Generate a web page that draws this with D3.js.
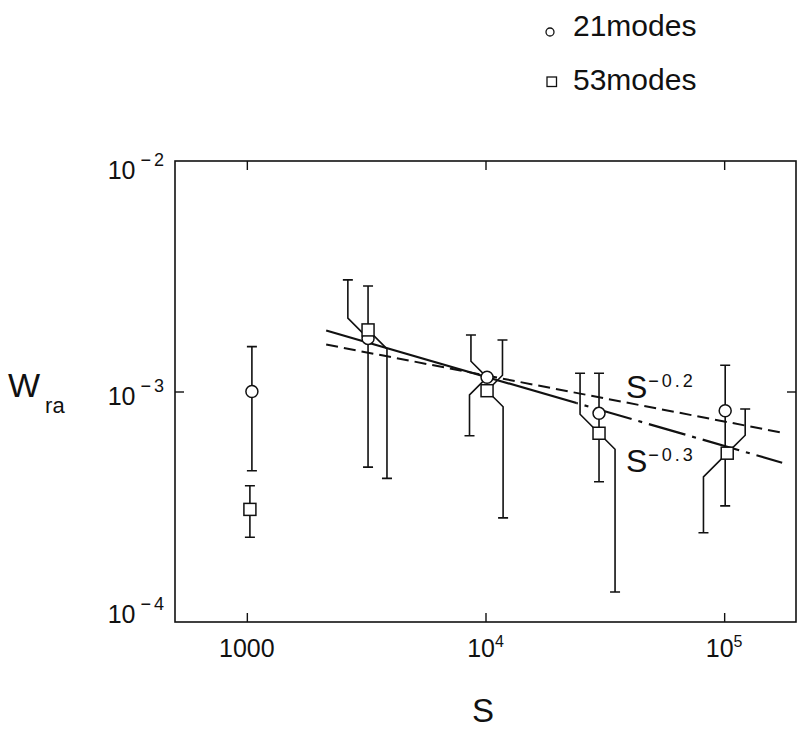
<!DOCTYPE html>
<html>
<head>
<meta charset="utf-8">
<script src="https://cdn.jsdelivr.net/npm/d3@7"></script>
<style>
  body { margin: 0; background: #fff; }
  svg { font-family: "Liberation Sans", Arial, sans-serif; }
</style>
</head>
<body>
<div class="chart"></div>
<script>
// ticks
const xTicks = [1000, 1e4, 1e5]
const xTickLabels = [["1000", ""], ["10", "4"], ["10", "5"]]
const yTicks = [1e-2, 1e-3, 1e-4]
const yTickLabels = [["10", "\u22122"], ["10", "\u22123"], ["10", "\u22124"]]

// 21 modes (circles): S, W, error bar ends, and the S where each whisker is drawn
const modes21S    = [1050, 3220, 10150, 29900, 101000]
const modes21W    = [1.0e-3, 1.70e-3, 1.152e-3, 8.04e-4, 8.25e-4]
const modes21Hi   = [1.565e-3, 3.05e-3, 1.758e-3, 1.2e-3, 1.3e-3]
const modes21Lo   = [4.53e-4, 4.70e-4, 6.43e-4, 4.06e-4, 3.19e-4]
const modes21HiAt = [1050, 2650, 8690, 29900, 101000]
const modes21LoAt = [1050, 3220, 8570, 29900, 101000]

// 53 modes (squares)
const modes53S    = [1030, 3220, 10150, 29900, 103000]
const modes53W    = [3.08e-4, 1.85e-3, 1.008e-3, 6.59e-4, 5.40e-4]
const modes53Hi   = [3.90e-4, 2.87e-3, 1.673e-3, 1.2e-3, 8.39e-4]
const modes53Lo   = [2.33e-4, 4.20e-4, 2.83e-4, 1.35e-4, 2.44e-4]
const modes53HiAt = [1030, 3220, 11780, 24900, 122500]
const modes53LoAt = [1030, 3865, 11850, 34900, 81900]

// power law guide lines, end points
const fitS   = [2150, 175000]
const fitW02 = [1.598e-3, 6.63e-4]
const fitW03 = [1.839e-3, 4.91e-4]
const fitSplitS = 24000   // S^-0.3 goes from solid to dash-dot here

const legendNames = ["21modes", "53modes"]

const width = 800, height = 732
const margin = ({top: 161, right: 4, bottom: 110, left: 175})

const svg = d3.select(".chart").append("svg")
  .attr("width", width)
  .attr("height", height)

const x = d3.scaleLog().domain([500, 2e5]).range([margin.left, width - margin.right])
const y = d3.scaleLog().domain([1e-4, 1e-2]).range([height - margin.bottom, margin.top])

const [x0, x1] = x.range()
const [y0, y1] = y.range()

// frame
svg.append("rect")
  .attr("x", x0).attr("y", y1)
  .attr("width", x1 - x0).attr("height", y0 - y1)
  .attr("fill", "none").attr("stroke", "#111").attr("stroke-width", 1.6)

// inward ticks on all four sides
const tick = 9
const axes = [
  [d3.axisBottom(x).tickValues(xTicks), `translate(0,${y0})`],
  [d3.axisTop(x).tickValues(xTicks), `translate(0,${y1})`],
  [d3.axisLeft(y).tickValues([1e-3]), `translate(${x0},0)`],
  [d3.axisRight(y).tickValues([1e-3]), `translate(${x1},0)`]
]
axes.forEach(([ax, tr]) => {
  svg.append("g").attr("transform", tr)
    .call(ax.tickSize(-tick).tickFormat(""))
    .call(g => g.select(".domain").remove())
    .call(g => g.selectAll("line").attr("stroke", "#111").attr("stroke-width", 1.4))
})

// x tick labels
const xl = svg.append("g").selectAll("text")
  .data(xTicks).enter().append("text")
  .attr("x", d => x(d))
  .attr("y", 657)
  .attr("text-anchor", "middle")
  .attr("font-size", 25)
  .attr("fill", "#111")
xl.append("tspan").text((d, i) => xTickLabels[i][0])
xl.append("tspan").attr("dy", -10).attr("font-size", 16).text((d, i) => xTickLabels[i][1])

// y tick labels (baselines sit a little differently in the original)
const yLabelShift = [18, 13, 1]
const yl = svg.append("g").selectAll("text")
  .data(yTicks).enter().append("text")
  .attr("x", x0 - 8)
  .attr("y", (d, i) => y(d) + yLabelShift[i])
  .attr("text-anchor", "end")
  .attr("font-size", 25)
  .attr("fill", "#111")
yl.append("tspan").text((d, i) => yTickLabels[i][0])
yl.append("tspan").attr("dy", -13).attr("dx", 5).attr("font-size", 18)
  .attr("letter-spacing", 3).text((d, i) => yTickLabels[i][1])

// axis titles
const yt = svg.append("text").attr("x", 8).attr("y", 397).attr("fill", "#111")
yt.append("tspan").attr("font-size", 34).text("W")
yt.append("tspan").attr("font-size", 22).attr("dx", 5).attr("dy", 16).text("ra")

svg.append("text").attr("x", 483).attr("y", 722)
  .attr("text-anchor", "middle").attr("font-size", 33).attr("fill", "#111").text("S")

// guide lines
const line = d3.line().x(d => x(d[0])).y(d => y(d[1]))
const pts02 = fitS.map((s, i) => [s, fitW02[i]])
const pts03 = fitS.map((s, i) => [s, fitW03[i]])

svg.append("defs").call(defs => {
  defs.append("clipPath").attr("id", "leftPart").append("rect")
    .attr("x", 0).attr("y", 0).attr("width", x(fitSplitS)).attr("height", height)
  defs.append("clipPath").attr("id", "rightPart").append("rect")
    .attr("x", x(fitSplitS)).attr("y", 0).attr("width", width).attr("height", height)
})

svg.append("path").attr("d", line(pts02))
  .attr("fill", "none").attr("stroke", "#111").attr("stroke-width", 2)
  .attr("stroke-dasharray", "12,6")
svg.append("path").attr("d", line(pts03)).attr("clip-path", "url(#leftPart)")
  .attr("fill", "none").attr("stroke", "#111").attr("stroke-width", 2.2)
svg.append("path").attr("d", line(pts03)).attr("clip-path", "url(#rightPart)")
  .attr("fill", "none").attr("stroke", "#111").attr("stroke-width", 2.2)
  .attr("stroke-dasharray", "38,7,4,7")

// guide line labels
const fitLabels = [["S", "\u22120.2", 398], ["S", "\u22120.3", 472]]
fitLabels.forEach(([a, b, by]) => {
  const t = svg.append("text").attr("x", 626).attr("y", by).attr("fill", "#111")
  t.append("tspan").attr("font-size", 32).text(a)
  t.append("tspan").attr("font-size", 18).attr("dy", -11).attr("dx", 1)
    .attr("letter-spacing", 3).text(b)
})

// error bars: whisker may be shifted sideways, joined by a 45 degree bend
function whisker(s, w, end, at) {
  const xm = x(s), ym = y(w), xw = x(at), ye = y(end)
  const d = Math.abs(xw - xm)
  if (d < 1.5) return `M${xm},${ym}V${ye}M${xm - 5},${ye}H${xm + 5}`
  const dir = ye < ym ? -1 : 1
  return `M${xm},${ym}L${xw},${ym + dir * d}V${ye}M${xw - 5},${ye}H${xw + 5}`
}

const series = [
  {s: modes21S, w: modes21W, hi: modes21Hi, lo: modes21Lo, hiAt: modes21HiAt, loAt: modes21LoAt},
  {s: modes53S, w: modes53W, hi: modes53Hi, lo: modes53Lo, hiAt: modes53HiAt, loAt: modes53LoAt}
]
const bars = svg.append("g").attr("fill", "none").attr("stroke", "#111").attr("stroke-width", 1.6)
series.forEach(sr => {
  sr.s.forEach((s, i) => {
    bars.append("path").attr("d", whisker(s, sr.w[i], sr.hi[i], sr.hiAt[i]))
    bars.append("path").attr("d", whisker(s, sr.w[i], sr.lo[i], sr.loAt[i]))
  })
})

// markers
svg.append("g").selectAll("circle")
  .data(modes21S).enter().append("circle")
  .attr("cx", d => x(d))
  .attr("cy", (d, i) => y(modes21W[i]))
  .attr("r", 6)
  .attr("fill", "#fff").attr("stroke", "#111").attr("stroke-width", 1.5)

svg.append("g").selectAll("rect")
  .data(modes53S).enter().append("rect")
  .attr("x", d => x(d) - 6)
  .attr("y", (d, i) => y(modes53W[i]) - 6)
  .attr("width", 12).attr("height", 12)
  .attr("fill", "#fff").attr("stroke", "#111").attr("stroke-width", 1.5)

// legend
const lg = svg.append("g")
lg.append("circle").attr("cx", 550).attr("cy", 32).attr("r", 4)
  .attr("fill", "#fff").attr("stroke", "#111").attr("stroke-width", 1.3)
lg.append("rect").attr("x", 547).attr("y", 77).attr("width", 9.5).attr("height", 9.5)
  .attr("fill", "#fff").attr("stroke", "#111").attr("stroke-width", 1.3)
lg.selectAll("text").data(legendNames).enter().append("text")
  .attr("x", 573)
  .attr("y", (d, i) => 36 + i * 54)
  .attr("font-size", 30)
  .attr("fill", "#111")
  .text(d => d)
</script>
</body>
</html>
